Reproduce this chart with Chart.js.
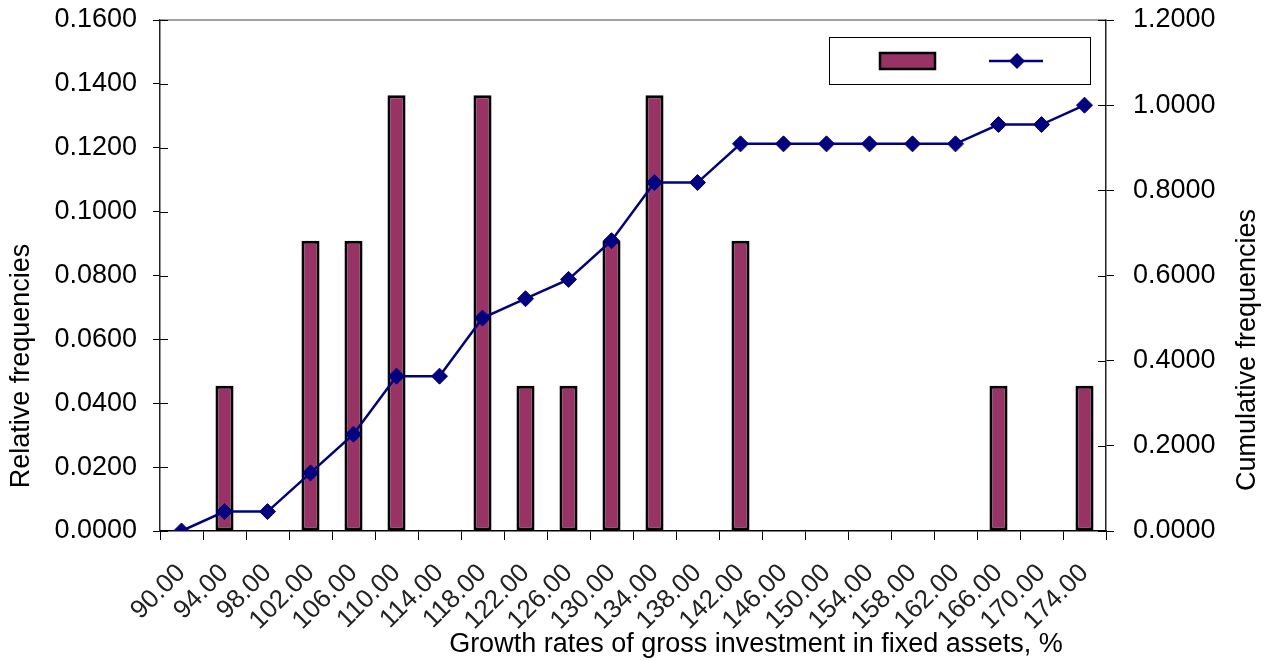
<!DOCTYPE html>
<html>
<head>
<meta charset="utf-8">
<script src="https://cdn.jsdelivr.net/npm/chart.js@4"></script>
<style>
  html, body { margin: 0; padding: 0; background: #fff; }
  #wrap { width: 1272px; height: 661px; position: relative; }
</style>
</head>
<body>
<div id="wrap"><canvas id="freq-chart"></canvas></div>
<script>
// growth rate classes, %
const classes = ['90.00', '94.00', '98.00', '102.00', '106.00', '110.00', '114.00', '118.00',
  '122.00', '126.00', '130.00', '134.00', '138.00', '142.00', '146.00', '150.00',
  '154.00', '158.00', '162.00', '166.00', '170.00', '174.00'];

// relative frequencies (bars, left axis)
const relFreq = [0, 0.0455, 0, 0.0909, 0.0909, 0.1364, 0, 0.1364,
  0.0455, 0.0455, 0.0909, 0.1364, 0, 0.0909, 0, 0,
  0, 0, 0, 0.0455, 0, 0.0455];

// cumulative frequencies (line, right axis)
const cumFreq = [0, 0.0455, 0.0455, 0.1364, 0.2273, 0.3636, 0.3636, 0.5000,
  0.5455, 0.5909, 0.6818, 0.8182, 0.8182, 0.9091, 0.9091, 0.9091,
  0.9091, 0.9091, 0.9091, 0.9545, 0.9545, 1.0000];

const xTitle = 'Growth rates of gross investment in fixed assets, %';
const yTitle = 'Relative frequencies';
const y1Title = 'Cumulative frequencies';

const FONT = '"Liberation Sans", Arial, sans-serif';
const BAR_FILL = '#993366';
const LINE_COL = '#000080';

Chart.defaults.font.family = FONT;
Chart.defaults.color = '#000';

// inner tick stubs, top frame line, axis titles and the legend box
const decorations = {
  id: 'decorations',
  afterDraw(chart) {
    const { ctx, chartArea: a, scales } = chart;
    ctx.save();

    // top frame
    ctx.strokeStyle = '#808080';
    ctx.lineWidth = 1.5;
    ctx.beginPath();
    ctx.moveTo(a.left, a.top);
    ctx.lineTo(a.right, a.top);
    ctx.stroke();

    // ticks cross the value axes
    ctx.strokeStyle = '#000';
    ctx.lineWidth = 1;
    ctx.beginPath();
    scales.y.ticks.forEach((t, i) => {
      const py = Math.round(scales.y.getPixelForTick(i)) + 0.5;
      ctx.moveTo(a.left, py);
      ctx.lineTo(a.left + 8, py);
    });
    scales.y1.ticks.forEach((t, i) => {
      const py = Math.round(scales.y1.getPixelForTick(i)) + 0.5;
      ctx.moveTo(a.right - 8, py);
      ctx.lineTo(a.right, py);
    });
    ctx.stroke();

    // axis titles
    ctx.fillStyle = '#000';
    ctx.font = '27px ' + FONT;
    ctx.textAlign = 'center';
    ctx.textBaseline = 'middle';
    ctx.fillText(xTitle, 756, 645);

    ctx.save();
    ctx.translate(22, 366);
    ctx.rotate(-Math.PI / 2);
    ctx.fillText(yTitle, 0, 0);
    ctx.restore();

    ctx.save();
    ctx.translate(1248, 350);
    ctx.rotate(-Math.PI / 2);
    ctx.fillText(y1Title, 0, 0);
    ctx.restore();

    // legend: box with swatches only
    const bx = a.right - 277, by = a.top + 17, bw = 261, bh = 47;
    ctx.fillStyle = '#fff';
    ctx.fillRect(bx, by, bw, bh);
    ctx.strokeStyle = '#000';
    ctx.lineWidth = 1;
    ctx.strokeRect(bx + 0.5, by + 0.5, bw, bh);

    ctx.fillStyle = BAR_FILL;
    ctx.fillRect(bx + 51, by + 16, 55, 16);
    ctx.lineWidth = 2.5;
    ctx.strokeRect(bx + 51, by + 16, 55, 16);

    const ly = by + 24;
    ctx.strokeStyle = LINE_COL;
    ctx.lineWidth = 2.5;
    ctx.beginPath();
    ctx.moveTo(bx + 160, ly);
    ctx.lineTo(bx + 214, ly);
    ctx.stroke();
    const cx = bx + 188;
    ctx.fillStyle = LINE_COL;
    ctx.beginPath();
    ctx.moveTo(cx, ly - 8);
    ctx.lineTo(cx + 8, ly);
    ctx.lineTo(cx, ly + 8);
    ctx.lineTo(cx - 8, ly);
    ctx.closePath();
    ctx.fill();

    ctx.restore();
  }
};

const fourDp = (v) => Number(v).toFixed(4);

// fixed box sizes so the plot area sits where the axes belong
const noPad = (scale) => {
  scale.paddingTop = 0;
  scale.paddingBottom = 0;
  scale.paddingLeft = 0;
  scale.paddingRight = 0;
};

new Chart(document.getElementById('freq-chart'), {
  data: {
    labels: classes,
    datasets: [
      {
        type: 'line',
        label: y1Title,
        data: cumFreq,
        yAxisID: 'y1',
        borderColor: LINE_COL,
        backgroundColor: LINE_COL,
        borderWidth: 2.5,
        pointStyle: 'rectRot',
        pointRadius: 8,
        pointBorderWidth: 1,
        tension: 0,
        order: 0,
      },
      {
        type: 'bar',
        label: yTitle,
        data: relFreq,
        yAxisID: 'y',
        backgroundColor: BAR_FILL,
        borderColor: '#000',
        borderWidth: 3,
        borderSkipped: false,
        inflateAmount: 0,
        categoryPercentage: 1,
        barPercentage: 0.42,
        order: 1,
      },
    ],
  },
  options: {
    responsive: true,
    maintainAspectRatio: false,
    animation: false,
    layout: { padding: { top: 20, left: 0, right: 0, bottom: 0 } },
    plugins: {
      legend: { display: false },
      tooltip: { enabled: false },
    },
    scales: {
      x: {
        offset: true,
        grid: { offset: true, drawOnChartArea: false, drawTicks: true, tickLength: 9, color: '#000' },
        border: { display: true, color: '#000', width: 1.5 },
        ticks: {
          font: { size: 26 },
          color: '#222',
          maxRotation: 45,
          minRotation: 45,
          autoSkip: false,
          padding: 18,
        },
        afterFit(scale) { scale.height = 130; noPad(scale); },
      },
      y: {
        position: 'left',
        min: 0,
        max: 0.16,
        ticks: { stepSize: 0.02, callback: fourDp, font: { size: 27 }, padding: 16 },
        grid: { drawOnChartArea: false, tickLength: 7, color: '#000' },
        border: { display: true, color: '#222', width: 1.5 },
        afterFit(scale) { scale.width = 160; noPad(scale); },
      },
      y1: {
        position: 'right',
        min: 0,
        max: 1.2,
        ticks: { stepSize: 0.2, callback: fourDp, font: { size: 27 }, padding: 19 },
        grid: { drawOnChartArea: false, tickLength: 8, color: '#000' },
        border: { display: true, color: '#222', width: 1.5 },
        afterFit(scale) { scale.width = 166; noPad(scale); },
      },
    },
  },
  plugins: [decorations],
});
</script>
</body>
</html>
